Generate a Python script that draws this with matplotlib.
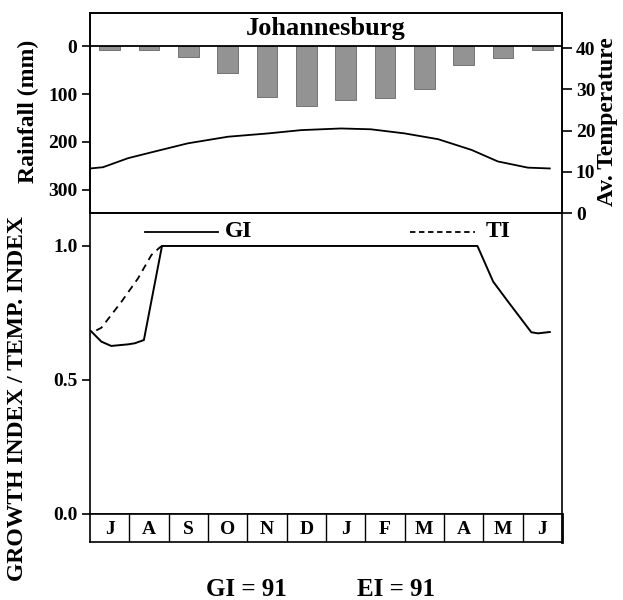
import matplotlib.pyplot as plt

plt.rcParams['font.family'] = ['Liberation Serif', 'DejaVu Serif']
plt.rcParams['font.weight'] = 'bold'
plt.rcParams['axes.linewidth'] = 1.2

# Monthly rainfall (mm), July -> June
months = ['J', 'A', 'S', 'O', 'N', 'D', 'J', 'F', 'M', 'A', 'M', 'J']
rainfall = [7, 7, 22, 56, 107, 125, 113, 108, 89, 38, 24, 8]

# Average temperature curve (x in month units from start of July)
temp_x = [0.0, 0.33, 0.97, 1.64, 2.49, 3.51, 4.53, 5.37, 6.38, 7.14, 8.0, 8.85, 9.7, 10.37, 11.13, 11.69]
temp_y = [10.8, 11.1, 13.3, 14.9, 16.9, 18.5, 19.3, 20.1, 20.5, 20.3, 19.3, 17.9, 15.3, 12.5, 11.0, 10.8]

# Growth index and temperature index
gi_x = [0.02, 0.29, 0.54, 0.97, 1.14, 1.37, 1.83, 9.85, 10.25, 10.63, 11.22, 11.39, 11.69]
gi_y = [0.683, 0.643, 0.627, 0.633, 0.637, 0.649, 1.0, 1.0, 0.867, 0.792, 0.678, 0.674, 0.679]
ti_x = [0.16, 0.29, 0.80, 1.22, 1.56, 1.77, 1.83]
ti_y = [0.685, 0.695, 0.792, 0.879, 0.966, 0.994, 1.0]

gi_value = 91
ei_value = 91

fig = plt.figure(figsize=(6.23, 6.0), dpi=100)
L, W = 90 / 623, 472 / 623
ax_top = fig.add_axes([L, 387 / 600, W, 200 / 600])
ax_bot = fig.add_axes([L, 86 / 600, W, 301 / 600])
ax_mon = fig.add_axes([L, 58 / 600, W, 28 / 600])

# --- top panel: rainfall bars + temperature
x_mid = [i + 0.5 for i in range(len(months))]
ax_top.bar(x_mid, rainfall, width=0.52, color='#939393', edgecolor='#666666', linewidth=0.6)
ax_top.axhline(0, color='black', lw=1.3)
ax_top.set_xlim(0, 12)
ax_top.set_ylim(349, -70)
ax_top.set_yticks([0, 100, 200, 300])
ax_top.set_xticks([])
ax_top.tick_params(axis='y', direction='out', length=6, width=1.2, labelsize=14, pad=3)
ax_top.text(6, -37, 'Johannesburg', ha='center', va='center', fontsize=19, fontweight='bold')

ax_t = ax_top.twinx()
ax_t.plot(temp_x, temp_y, color='black', lw=1.3)
ax_t.set_ylim(0, 48.5)
ax_t.set_yticks([0, 10, 20, 30, 40])
ax_t.tick_params(axis='y', direction='out', length=7, width=1.2, labelsize=14, pad=3)

# --- bottom panel: GI / TI
ax_bot.plot(gi_x, gi_y, color='black', lw=1.4)
ax_bot.plot(ti_x, ti_y, color='black', lw=1.3, ls=(0, (4, 3)))
ax_bot.plot([1.41, 3.25], [1.053, 1.053], color='black', lw=1.3)
ax_bot.text(3.43, 1.053, 'GI', ha='left', va='center', fontsize=17, fontweight='bold')
ax_bot.plot([8.13, 9.78], [1.053, 1.053], color='black', lw=1.3, ls=(0, (3, 2)))
ax_bot.text(10.07, 1.053, 'TI', ha='left', va='center', fontsize=17, fontweight='bold')
ax_bot.set_xlim(0, 12)
ax_bot.set_ylim(0, 1.123)
ax_bot.set_yticks([0.0, 0.5, 1.0])
ax_bot.set_yticklabels(['0.0', '0.5', '1.0'])
ax_bot.set_xticks([])
ax_bot.tick_params(axis='y', direction='out', length=6, width=1.2, labelsize=14, pad=3)

# --- month strip
ax_mon.set_xlim(0, 12)
ax_mon.set_ylim(0, 1)
for i in range(1, 12):
    ax_mon.axvline(i, color='black', lw=1.0)
for xm, m in zip(x_mid, months):
    ax_mon.text(xm, 0.45, m, ha='center', va='center', fontsize=14, fontweight='bold')
ax_mon.set_xticks([])
ax_mon.set_yticks([])
ax_mon.spines['right'].set_linewidth(2.0)

# axis titles placed directly on the figure
fig.text(28 / 623, 1 - 111 / 600, 'Rainfall (mm)', rotation=90,
         ha='center', va='center', fontsize=17, fontweight='bold')
fig.text(608 / 623, 1 - 122 / 600, 'Av. Temperature', rotation=90,
         ha='center', va='center', fontsize=17, fontweight='bold')
fig.text(18 / 623, 1 - 399 / 600, 'GROWTH INDEX / TEMP. INDEX', rotation=90,
         ha='center', va='center', fontsize=17, fontweight='bold')
fig.text(246 / 623, 1 - 589 / 600, f'GI = {gi_value}', ha='center', va='center',
         fontsize=18, fontweight='bold')
fig.text(396 / 623, 1 - 589 / 600, f'EI = {ei_value}', ha='center', va='center',
         fontsize=18, fontweight='bold')

fig.savefig('out.png', dpi=100)
